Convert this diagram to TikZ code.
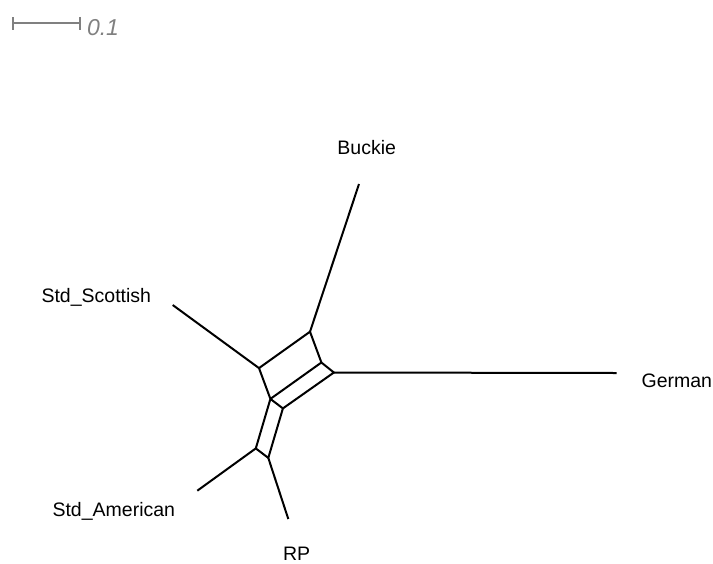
\documentclass[tikz,border=0pt]{standalone}
\usepackage{fontspec}
\setmainfont{Liberation Sans}
\usetikzlibrary{arrows.meta}
\definecolor{scalegray}{RGB}{128,128,128}

\begin{document}
\begin{tikzpicture}[x=0.5pt, y=-0.5pt, line width=1pt,
		taxon/.style={font=\fontsize{9.75}{12}\selectfont, anchor=base, inner sep=0pt}]
				\useasboundingbox (0, 0) rectangle (713, 563);
				\path (310, 331.7) coordinate (n1)
				(321.4, 362.5) coordinate (n2)
				(259, 368.1) coordinate (n3)
				(270.4, 398.9) coordinate (n4)
				(333.9, 372.5) coordinate (n5)
				(282.9, 408.4) coordinate (n6)
				(255.8, 448.4) coordinate (n7)
				(268.3, 457.9) coordinate (n8);
				
				\path (359, 184) coordinate (e1)
				(172.7, 305) coordinate (e2)
				(616.7, 373) coordinate (e3)
				(197.3, 490.7) coordinate (e4)
				(288.3, 519) coordinate (e5);
				
				\path (366.7, 154) node[taxon] (t1){Buckie}
				(96.3, 302) node[taxon] (t2){Std\_Scottish}
				(676.8, 387) node[taxon] (t3){German}
				(113.8, 516) node[taxon] (t4){Std\_American}
				(296.7, 560.5) node[taxon] (t5){RP};
				
				\draw (n1) -- (n2) -- (n4) -- (n3) -- cycle
				(n2) -- (n5) -- (n6) -- (n4)
				(n4) -- (n7) -- (n8) -- (n6);
				\draw (n1) -- (e1) (n3) -- (e2) (n5) -- (e3) (n7) -- (e4) (n8) -- (e5);
				
				\path (12.3, 23.3) coordinate (s1) (80.7, 23.3) coordinate (s2);
				\draw[scalegray, line width=1pt, {Bar[width=6.5pt]}-{Bar[width=6.5pt]}] (s1) -- (s2);
				\path (86, 35) node[anchor=base west, inner sep=0pt, text=scalegray, font=\fontsize{11.5}{13}\selectfont\itshape] (sl){0.1};
			\end{tikzpicture}
\end{document}
